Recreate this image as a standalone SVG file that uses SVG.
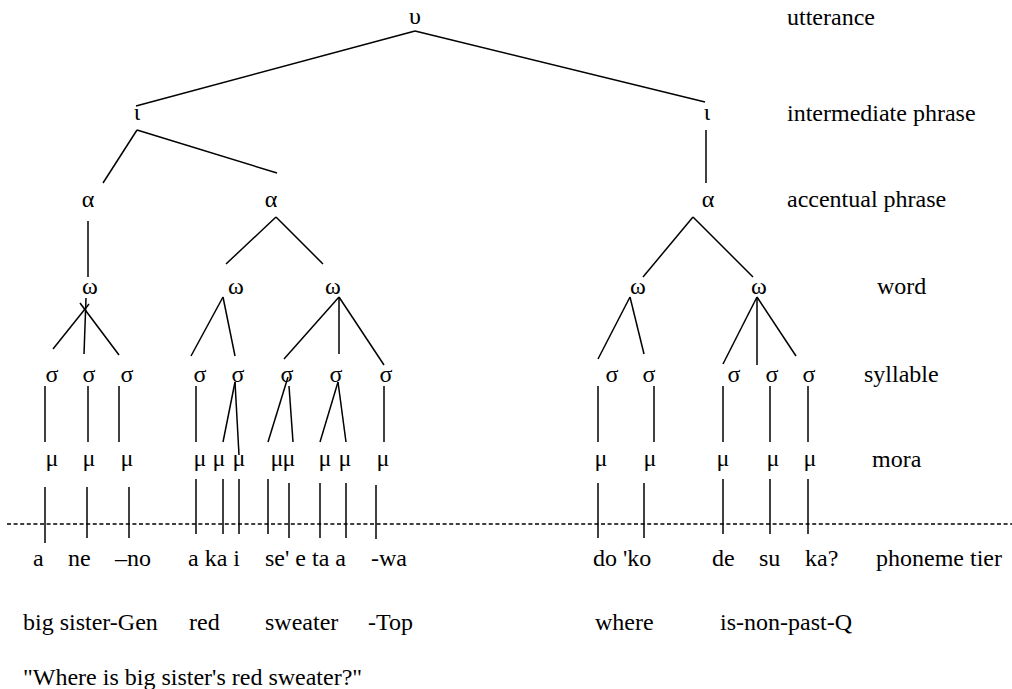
<svg xmlns="http://www.w3.org/2000/svg" width="1012" height="689" viewBox="0 0 1012 689">
<style>
text{font-family:"Liberation Serif","Times New Roman",serif;font-size:24px;fill:#000}
.g{text-anchor:middle}
.c line{stroke:#000;stroke-width:1.5;stroke-linecap:butt}
.dash{stroke:#444;stroke-width:1;stroke-dasharray:4 2.6}
</style>
<rect width="1012" height="689" fill="#fff"/>
<g id="tier-labels">
<text x="787" y="25">utterance</text>
<text x="787" y="121">intermediate phrase</text>
<text x="787" y="207">accentual phrase</text>
<text x="877" y="294">word</text>
<text x="864" y="382">syllable</text>
<text x="872" y="467">mora</text>
<text x="876" y="566">phoneme tier</text>
</g>
<g id="utterance"><text class="g" x="415" y="24">υ</text></g>
<g id="ip1"><text class="g" x="137" y="120">ι</text></g>
<g id="ip2"><text class="g" x="707" y="120">ι</text></g>
<g id="ap1"><text class="g" x="88" y="207">α</text></g>
<g id="ap2"><text class="g" x="271" y="207">α</text></g>
<g id="ap3"><text class="g" x="708" y="207">α</text></g>
<g id="w1"><text class="g" x="90" y="294">ω</text></g>
<g id="w2"><text class="g" x="236" y="294">ω</text></g>
<g id="w3"><text class="g" x="333" y="294">ω</text></g>
<g id="w4"><text class="g" x="638" y="294">ω</text></g>
<g id="w5"><text class="g" x="759" y="294">ω</text></g>
<g id="syllables">
<text class="g" x="52" y="382">σ</text>
<text class="g" x="89" y="382">σ</text>
<text class="g" x="127" y="382">σ</text>
<text class="g" x="200" y="382">σ</text>
<text class="g" x="238" y="382">σ</text>
<text class="g" x="287" y="382">σ</text>
<text class="g" x="336" y="382">σ</text>
<text class="g" x="386" y="382">σ</text>
<text class="g" x="612" y="382">σ</text>
<text class="g" x="649" y="382">σ</text>
<text class="g" x="734" y="382">σ</text>
<text class="g" x="772" y="382">σ</text>
<text class="g" x="809" y="382">σ</text>
</g>
<g id="morae">
<text class="g" x="52" y="466">μ</text>
<text class="g" x="89" y="466">μ</text>
<text class="g" x="127" y="466">μ</text>
<text class="g" x="200" y="466">μ</text>
<text class="g" x="219" y="466">μ</text>
<text class="g" x="239" y="466">μ</text>
<text class="g" x="277" y="466">μ</text>
<text class="g" x="289" y="466">μ</text>
<text class="g" x="325" y="466">μ</text>
<text class="g" x="345" y="466">μ</text>
<text class="g" x="383" y="466">μ</text>
<text class="g" x="601" y="466">μ</text>
<text class="g" x="650" y="466">μ</text>
<text class="g" x="723" y="466">μ</text>
<text class="g" x="773" y="466">μ</text>
<text class="g" x="810" y="466">μ</text>
</g>
<g id="phonemes">
<text x="33" y="566">a</text>
<text x="68" y="566">ne</text>
<text x="115" y="566">–no</text>
<text x="188" y="566">a ka i</text>
<text x="265" y="566">se' e ta a</text>
<text x="371" y="566">-wa</text>
<text x="593" y="566">do 'ko</text>
<text x="712" y="566">de</text>
<text x="759" y="566">su</text>
<text x="805" y="566">ka?</text>
</g>
<g id="glosses">
<text x="23" y="630">big sister-Gen</text>
<text x="189" y="630">red</text>
<text x="265" y="630">sweater</text>
<text x="368" y="630">-Top</text>
<text x="595" y="630">where</text>
<text x="720" y="630">is-non-past-Q</text>
</g>
<g id="translation"><text x="23" y="685">"Where is big sister's red sweater?"</text></g>
<g id="connectors" class="c">
<line x1="415" y1="31" x2="136" y2="106"/>
<line x1="415" y1="31" x2="705" y2="102"/>
<line x1="137" y1="130" x2="103" y2="183"/>
<line x1="137" y1="130" x2="277" y2="173"/>
<line x1="706" y1="130" x2="706" y2="183"/>
<line x1="88" y1="221" x2="88" y2="277"/>
<line x1="276" y1="217" x2="226" y2="264"/>
<line x1="276" y1="217" x2="323" y2="264"/>
<line x1="693" y1="217" x2="643" y2="277"/>
<line x1="693" y1="217" x2="753" y2="277"/>
<line x1="86" y1="298" x2="84" y2="354"/>
<line x1="89" y1="304" x2="53" y2="349"/>
<line x1="80" y1="303" x2="119" y2="355"/>
<line x1="223" y1="297" x2="191" y2="356"/>
<line x1="223" y1="297" x2="235" y2="356"/>
<line x1="339" y1="297" x2="284" y2="359"/>
<line x1="339" y1="297" x2="339" y2="354"/>
<line x1="339" y1="297" x2="384" y2="365"/>
<line x1="630" y1="297" x2="598" y2="359"/>
<line x1="630" y1="297" x2="644" y2="354"/>
<line x1="757" y1="297" x2="723" y2="364"/>
<line x1="757" y1="297" x2="757" y2="365"/>
<line x1="757" y1="297" x2="796" y2="356"/>
<line x1="45" y1="386" x2="45" y2="442"/>
<line x1="88" y1="386" x2="88" y2="442"/>
<line x1="119" y1="386" x2="119" y2="442"/>
<line x1="196" y1="386" x2="196" y2="442"/>
<line x1="235" y1="382" x2="223" y2="442"/>
<line x1="235" y1="382" x2="239" y2="455"/>
<line x1="288" y1="377" x2="268" y2="442"/>
<line x1="289" y1="386" x2="293" y2="442"/>
<line x1="338" y1="382" x2="320" y2="442"/>
<line x1="338" y1="382" x2="346" y2="442"/>
<line x1="384" y1="386" x2="384" y2="442"/>
<line x1="598" y1="386" x2="598" y2="442"/>
<line x1="654" y1="386" x2="654" y2="442"/>
<line x1="723" y1="386" x2="723" y2="442"/>
<line x1="770" y1="386" x2="770" y2="442"/>
<line x1="808" y1="386" x2="808" y2="442"/>
<line x1="45" y1="487" x2="45" y2="543"/>
<line x1="87" y1="487" x2="87" y2="538"/>
<line x1="129" y1="487" x2="129" y2="538"/>
<line x1="196" y1="479" x2="196" y2="534"/>
<line x1="223" y1="479" x2="223" y2="534"/>
<line x1="239" y1="479" x2="239" y2="534"/>
<line x1="268" y1="479" x2="268" y2="534"/>
<line x1="289" y1="483" x2="289" y2="538"/>
<line x1="320" y1="483" x2="320" y2="538"/>
<line x1="346" y1="483" x2="346" y2="538"/>
<line x1="376" y1="485" x2="376" y2="539"/>
<line x1="598" y1="483" x2="598" y2="538"/>
<line x1="644" y1="483" x2="644" y2="538"/>
<line x1="723" y1="479" x2="723" y2="534"/>
<line x1="770" y1="479" x2="770" y2="534"/>
<line x1="808" y1="479" x2="808" y2="534"/>
<line class="dash" x1="7" y1="524" x2="1012" y2="524"/>
</g>
</svg>
